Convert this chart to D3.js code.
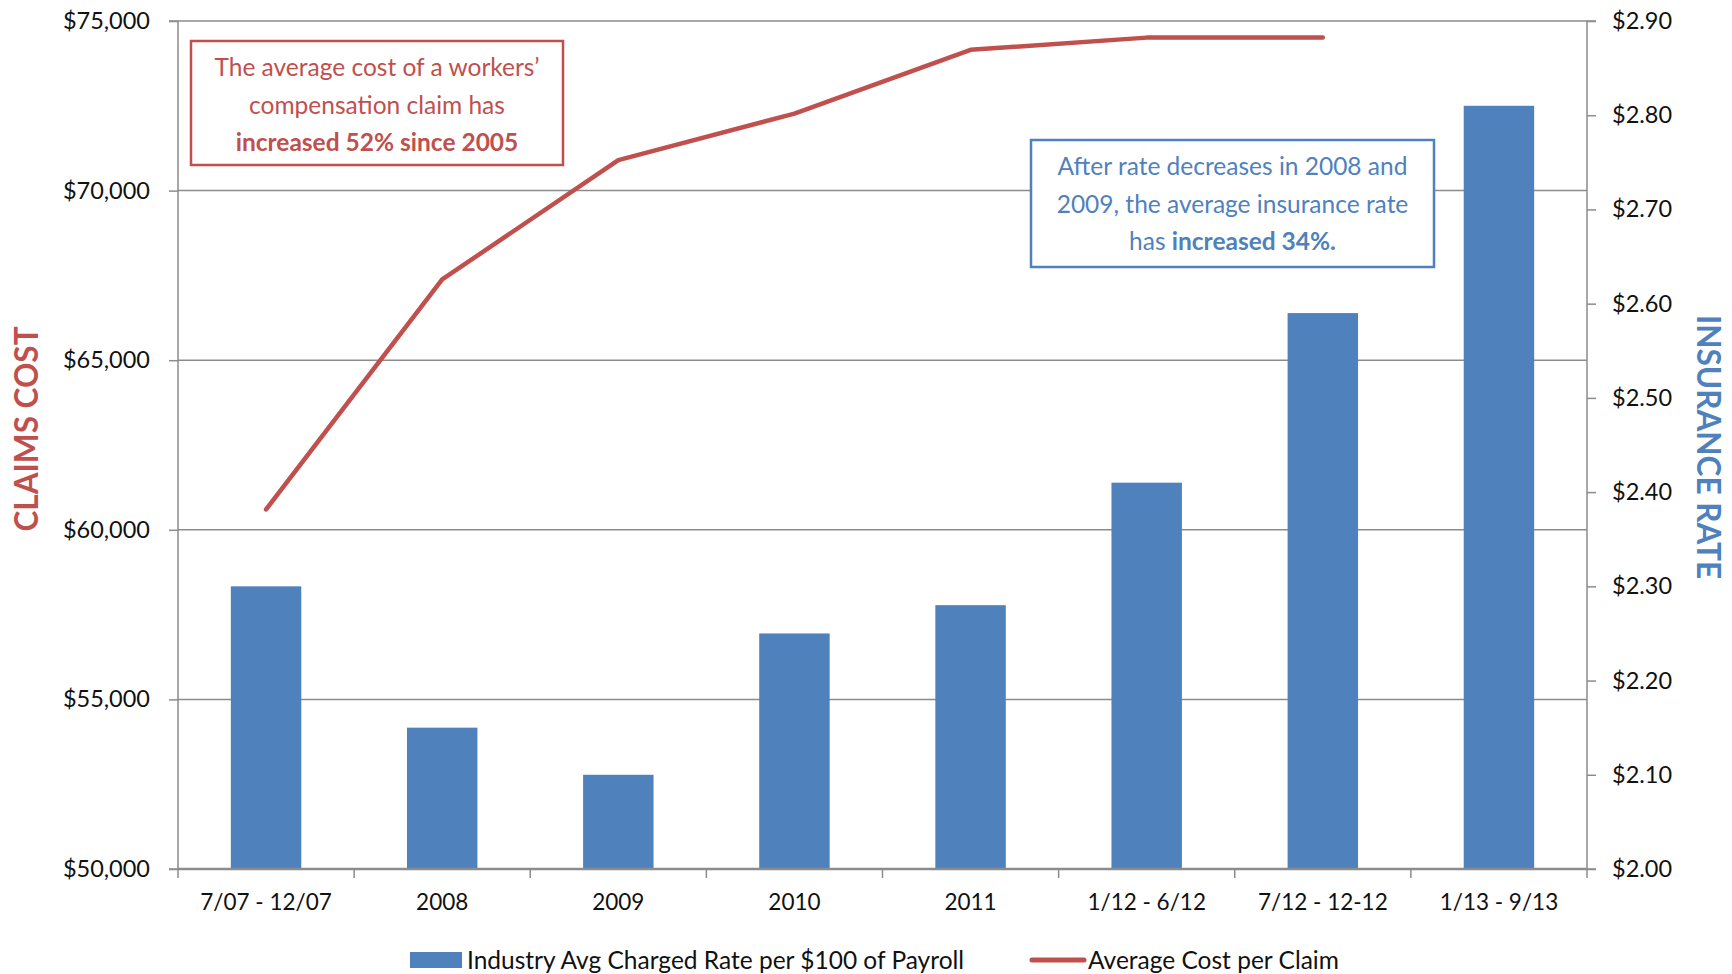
<!DOCTYPE html>
<html>
<head>
<meta charset="utf-8">
<script src="https://cdn.jsdelivr.net/npm/d3@7"></script>
<style>
  body { margin: 0; background: #fff; }
  svg text { font-family: Lato, "Open Sans", sans-serif; }
</style>
</head>
<body>
<svg id="chart" width="1732" height="974"></svg>
<script>
// data
const categories = ["7/07 - 12/07", "2008", "2009", "2010", "2011", "1/12 - 6/12", "7/12 - 12-12", "1/13 - 9/13"];
const rateValues = [2.30, 2.15, 2.10, 2.25, 2.28, 2.41, 2.59, 2.81];
const claimCost = [60600, 67380, 70900, 72270, 74150, 74510, 74510, null];
const leftTicks = [50000, 55000, 60000, 65000, 70000, 75000];
const rightTicks = [2.0, 2.1, 2.2, 2.3, 2.4, 2.5, 2.6, 2.7, 2.8, 2.9];

const blue = "#4F81BD", red = "#C0504D", grid = "#8c8c8c";
const m = { left: 178, right: 1587, top: 21, bottom: 869 };

const svg = d3.select("#chart");

const x = d3.scaleBand().domain(categories).range([m.left, m.right]).padding(0);
const yL = d3.scaleLinear().domain([50000, 75000]).range([m.bottom, m.top]);
const yR = d3.scaleLinear().domain([2.0, 2.9]).range([m.bottom, m.top]);

// gridlines
svg.append("g")
  .selectAll("line")
  .data(leftTicks)
  .enter()
  .append("line")
  .attr("x1", m.left).attr("x2", m.right)
  .attr("y1", d => yL(d)).attr("y2", d => yL(d))
  .attr("stroke", grid).attr("stroke-width", 1.5);

// bars
const barW = x.bandwidth() * 0.4;
svg.append("g")
  .selectAll("rect")
  .data(rateValues)
  .enter()
  .append("rect")
  .attr("x", (d, i) => x(categories[i]) + (x.bandwidth() - barW) / 2)
  .attr("y", d => yR(d))
  .attr("width", barW)
  .attr("height", d => m.bottom - yR(d))
  .attr("fill", blue);

// line
const line = d3.line()
  .defined(d => d[1] != null)
  .x(d => x(d[0]) + x.bandwidth() / 2)
  .y(d => yL(d[1]));
svg.append("path")
  .datum(categories.map((c, i) => [c, claimCost[i]]))
  .attr("d", line)
  .attr("fill", "none")
  .attr("stroke", red)
  .attr("stroke-width", 4.5)
  .attr("stroke-linecap", "round")
  .attr("stroke-linejoin", "round");

// axes
const fmtL = d => "$" + d3.format(",")(d);
const fmtR = d => "$" + d.toFixed(2);

const axL = svg.append("g").attr("transform", `translate(${m.left},0)`)
  .call(d3.axisLeft(yL).tickValues(leftTicks).tickFormat(fmtL).tickSize(9).tickPadding(19));
const axR = svg.append("g").attr("transform", `translate(${m.right},0)`)
  .call(d3.axisRight(yR).tickValues(rightTicks).tickFormat(fmtR).tickSize(9).tickPadding(16));
const axB = svg.append("g").attr("transform", `translate(0,${m.bottom})`)
  .call(d3.axisBottom(x).tickSize(0).tickPadding(25));

// category boundary ticks
svg.append("g")
  .selectAll("line")
  .data(categories.concat([null]))
  .enter()
  .append("line")
  .attr("x1", (d, i) => d ? x(d) : m.right)
  .attr("x2", (d, i) => d ? x(d) : m.right)
  .attr("y1", m.bottom).attr("y2", m.bottom + 9)
  .attr("stroke", grid).attr("stroke-width", 1.5);

[axL, axR, axB].forEach(a => {
  a.selectAll("path.domain").attr("stroke", grid).attr("stroke-width", 1.5);
  a.selectAll(".tick line").attr("stroke", grid).attr("stroke-width", 1.5);
  a.selectAll("text").attr("font-size", 23.5).attr("fill", "#111")
    .style("font-family", "Lato, 'Open Sans', sans-serif");
});
axB.selectAll("text").attr("font-size", 22.5);
axL.select("path.domain").attr("d", `M-9,${m.bottom}H0V${m.top}H-9`);
axR.select("path.domain").attr("d", `M9,${m.bottom}H0V${m.top}H9`);
axB.select("path.domain").attr("d", `M${m.left},0H${m.right}`).attr("stroke-width", 2.5);

// axis titles
svg.append("text")
  .attr("transform", `translate(38,${(m.top + m.bottom) / 2 - 16}) rotate(-90)`)
  .attr("text-anchor", "middle")
  .attr("font-size", 31.5).attr("font-weight", "bold")
  .attr("fill", red)
  .text("CLAIMS COST");
svg.append("text")
  .attr("transform", `translate(1697,${(m.top + m.bottom) / 2 + 2}) rotate(90)`)
  .attr("text-anchor", "middle")
  .attr("font-size", 31.5).attr("font-weight", "bold")
  .attr("fill", blue)
  .text("INSURANCE RATE");

// annotation boxes
function note(x0, y0, w, h, color, lines) {
  const g = svg.append("g");
  g.append("rect")
    .attr("x", x0).attr("y", y0).attr("width", w).attr("height", h)
    .attr("fill", "#fff").attr("stroke", color).attr("stroke-width", 2.5);
  lines.forEach((ln, i) => {
    const t = g.append("text")
      .attr("x", x0 + w / 2).attr("y", y0 + 35 + i * 37.5)
      .attr("text-anchor", "middle")
      .attr("font-size", 24.5).attr("fill", color);
    ln.forEach(p => t.append("tspan").attr("font-weight", p[1] ? "bold" : "normal").text(p[0]));
  });
}
note(191, 41, 372, 124, red, [
  [["The average cost of a workers\u2019", false]],
  [["compensation claim has", false]],
  [["increased 52% since 2005", true]]
]);
note(1031, 140, 403, 127, blue, [
  [["After rate decreases in 2008 and", false]],
  [["2009, the average insurance rate", false]],
  [["has ", false], ["increased 34%.", true]]
]);

// legend
const lg = svg.append("g").attr("transform", "translate(0,960)");
lg.append("rect").attr("x", 410).attr("y", -8).attr("width", 52).attr("height", 16).attr("fill", blue);
lg.append("text").attr("x", 467).attr("y", 9).attr("font-size", 24.5).attr("fill", "#111")
  .text("Industry Avg Charged Rate per $100 of Payroll");
lg.append("line").attr("x1", 1032).attr("x2", 1084).attr("y1", 0).attr("y2", 0)
  .attr("stroke", red).attr("stroke-width", 5).attr("stroke-linecap", "round");
lg.append("text").attr("x", 1088).attr("y", 9).attr("font-size", 24.5).attr("fill", "#111")
  .text("Average Cost per Claim");
</script>
</body>
</html>
